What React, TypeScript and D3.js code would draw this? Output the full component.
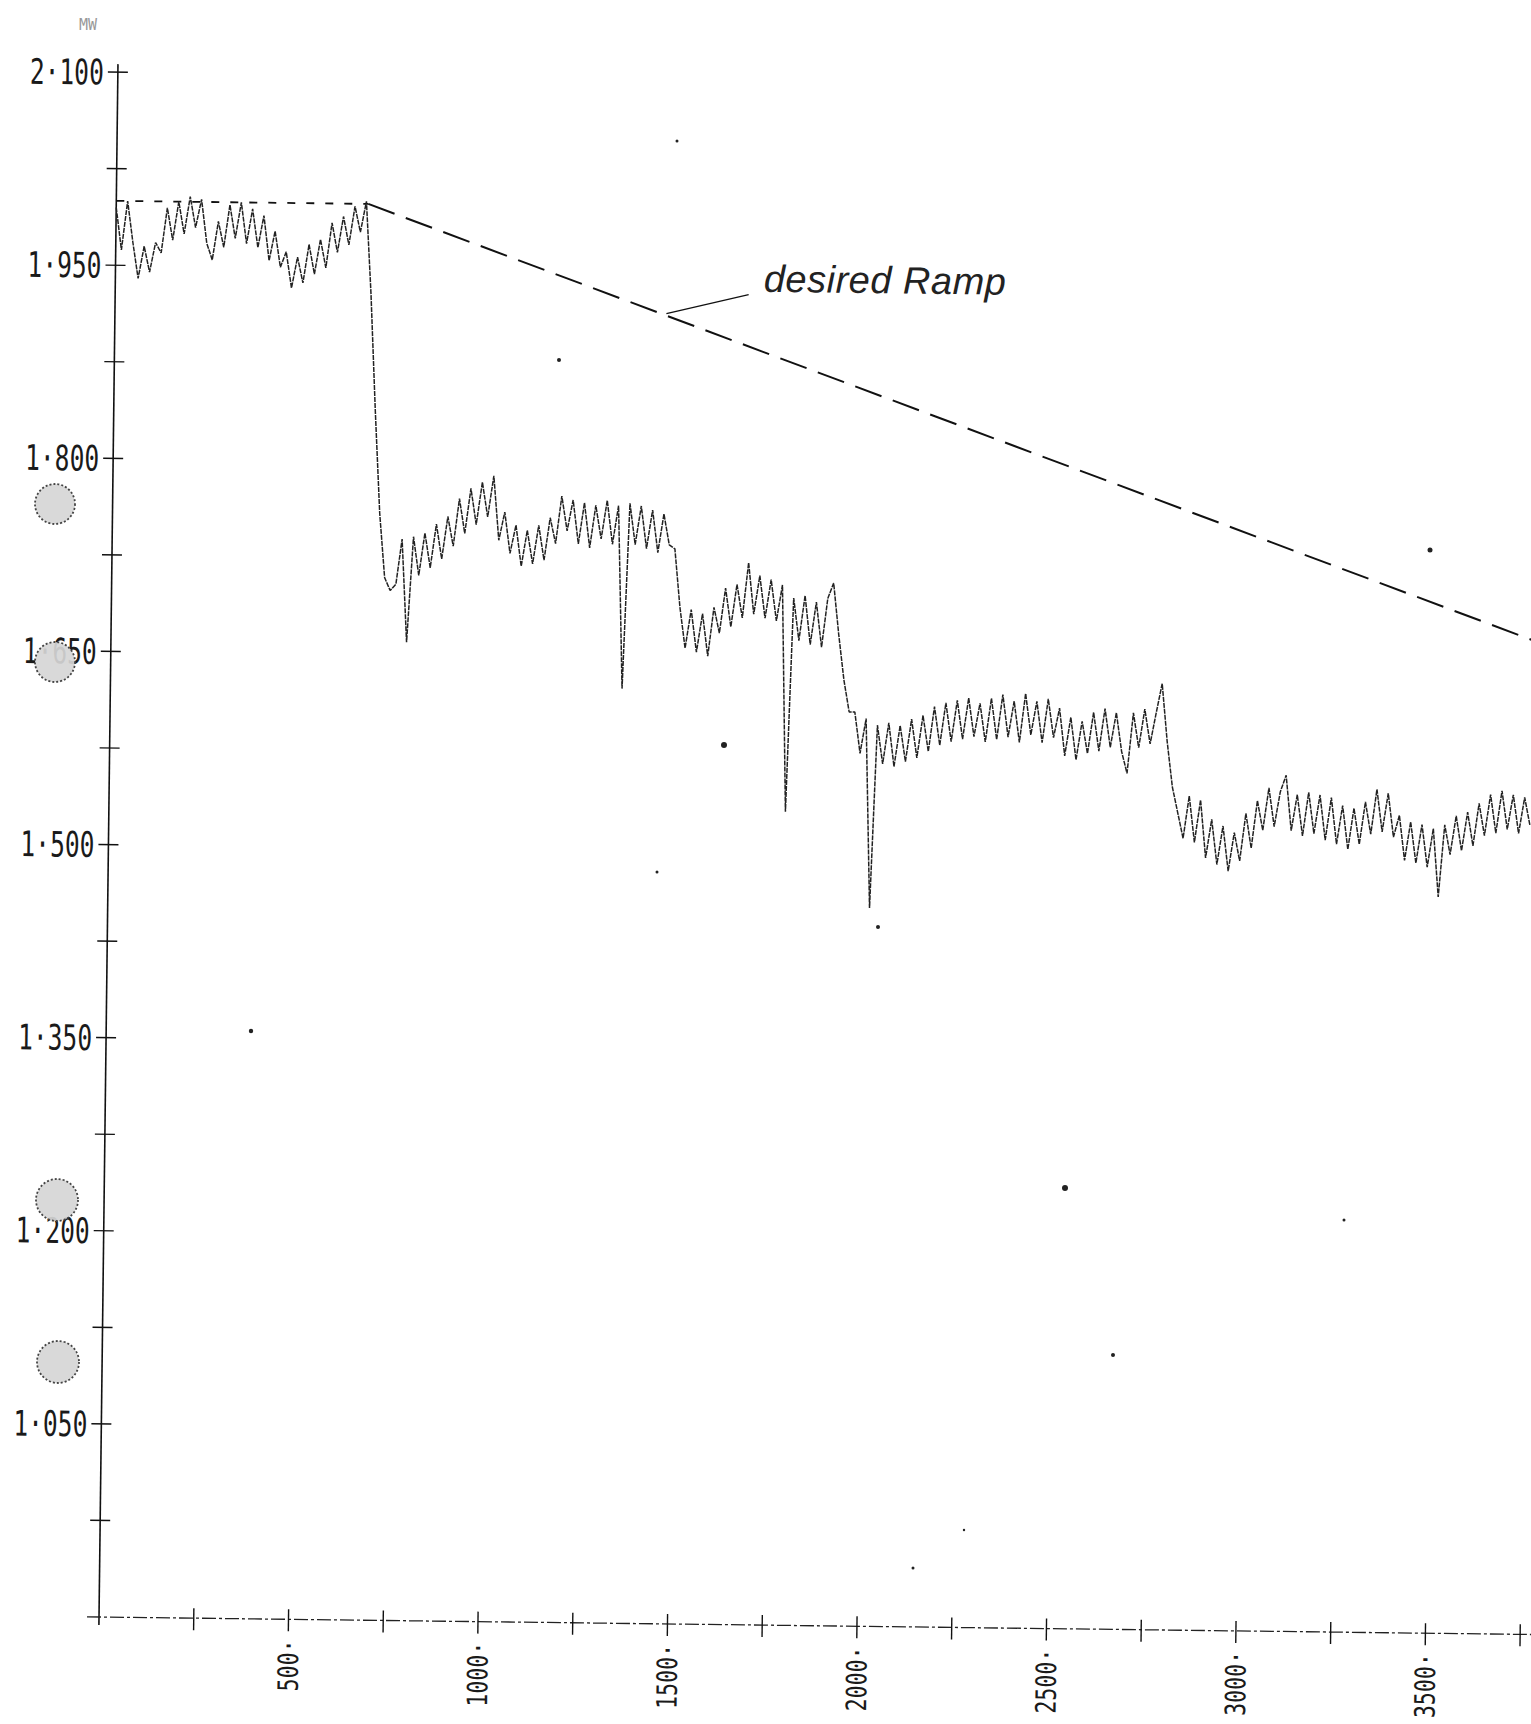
import React from 'react';
import * as d3 from 'd3';

// one sample every 15 time units, starting at t = 0
const SAMPLE_STEP = 15;

// first level, around 1.98 (t 0 - 660)
const stage1 = [
  1.995, 1.962, 2.000, 1.968, 1.940, 1.965, 1.945, 1.968, 1.960, 1.995,
  1.970, 2.000, 1.975, 2.004, 1.980, 2.002, 1.968, 1.955, 1.985, 1.965,
  1.998, 1.972, 2.000, 1.968, 1.995, 1.965, 1.990, 1.955, 1.978, 1.950,
  1.962, 1.934, 1.958, 1.938, 1.968, 1.945, 1.972, 1.950, 1.985, 1.962,
  1.990, 1.968, 1.998, 1.978, 2.002,
];
const drop1 = [1.93, 1.84, 1.76, 1.71, 1.70];
// second level (t 750 - 1470)
const stage2 = [
  1.705, 1.740, 1.660, 1.742, 1.712, 1.745, 1.718, 1.752, 1.725, 1.758,
  1.735, 1.772, 1.745, 1.780, 1.752, 1.785, 1.758, 1.790, 1.740, 1.762,
  1.730, 1.752, 1.720, 1.748, 1.722, 1.752, 1.725, 1.758, 1.738, 1.775,
  1.748, 1.772, 1.738, 1.770, 1.735, 1.768, 1.742, 1.772, 1.738, 1.768,
  1.626, 1.770, 1.738, 1.768, 1.735, 1.765, 1.732, 1.762, 1.738,
];
const drop2 = [1.735, 1.69];
// third level (t 1515 - 1905)
const stage3 = [
  1.658, 1.688, 1.655, 1.685, 1.652, 1.690, 1.670, 1.705, 1.675, 1.708,
  1.682, 1.725, 1.685, 1.715, 1.682, 1.712, 1.680, 1.708, 1.532, 1.698,
  1.665, 1.700, 1.662, 1.695, 1.660, 1.698, 1.710,
];
const drop3 = [1.67, 1.635, 1.61];
// fourth level (t 1965 - 2775)
const stage4 = [
  1.610, 1.578, 1.605, 1.458, 1.600, 1.570, 1.602, 1.568, 1.600, 1.572,
  1.605, 1.575, 1.608, 1.580, 1.615, 1.585, 1.618, 1.588, 1.620, 1.590,
  1.622, 1.592, 1.618, 1.588, 1.622, 1.590, 1.625, 1.592, 1.620, 1.588,
  1.626, 1.594, 1.620, 1.588, 1.622, 1.592, 1.615, 1.578, 1.608, 1.575,
  1.605, 1.580, 1.612, 1.582, 1.615, 1.585, 1.612, 1.582, 1.565, 1.612,
  1.585, 1.615, 1.588, 1.612, 1.635,
];
const drop4 = [1.59, 1.555, 1.535];
// fifth level (t 2835 - 3750)
const stage5 = [
  1.515, 1.548, 1.512, 1.545, 1.500, 1.530, 1.495, 1.525, 1.490, 1.520,
  1.498, 1.535, 1.508, 1.545, 1.522, 1.555, 1.525, 1.552, 1.565, 1.522,
  1.550, 1.518, 1.552, 1.520, 1.550, 1.515, 1.548, 1.512, 1.542, 1.508,
  1.540, 1.512, 1.545, 1.520, 1.555, 1.522, 1.552, 1.518, 1.535, 1.500,
  1.530, 1.498, 1.528, 1.495, 1.525, 1.472, 1.528, 1.505, 1.535, 1.508,
  1.538, 1.512, 1.545, 1.520, 1.552, 1.522, 1.555, 1.525, 1.552, 1.522,
  1.550, 1.528,
];

const power = [
  ...stage1, ...drop1, ...stage2, ...drop2, ...stage3,
  ...drop3, ...stage4, ...drop4, ...stage5,
];

// desired ramp (dashed)
const rampTimes = [0, 665, 3800];
const rampValues = [2.0, 2.0, 1.667];

const yTicks = [1.05, 1.2, 1.35, 1.5, 1.65, 1.8, 1.95, 2.1];
const yTickLabels = ['1·050', '1·200', '1·350', '1·500', '1·650', '1·800', '1·950', '2·100'];
const yMinorTicks = [0.975, 1.125, 1.275, 1.425, 1.575, 1.725, 1.875, 2.025];
const xTicks = [250, 500, 750, 1000, 1250, 1500, 1750, 2000, 2250, 2500, 2750, 3000, 3250, 3500, 3750];
const xLabelTicks = [500, 1000, 1500, 2000, 2500, 3000, 3500];

// scanner leftovers: punch-hole smudges and dust
const smudges = [
  { cx: 55, cy: 504, r: 20 },
  { cx: 55, cy: 662, r: 20 },
  { cx: 57, cy: 1200, r: 21 },
  { cx: 58, cy: 1362, r: 21 },
];
const dust = [
  [724, 745, 3], [1430, 550, 2.5], [1065, 1188, 3], [251, 1031, 2.2],
  [559, 360, 2], [878, 927, 2], [1113, 1355, 2], [677, 141, 1.5],
  [913, 1568, 1.5], [657, 872, 1.5], [1344, 1220, 1.5], [964, 1530, 1.2],
];

const W = 1531;
const H = 1724;
const TILT = 0.7; // the scan is slightly rotated

export default function App() {
  const x = d3.scaleLinear().domain([0, 3800]).range([99, 99 + 3800 * 0.379]);
  const y = d3.scaleLinear().domain([0.9, 2.1]).range([1617, 72]);
  const ox = x(0);
  const oy = y(0.9);

  const series = power.map((v, i) => [i * SAMPLE_STEP, v] as [number, number]);
  const line = d3.line<[number, number]>().x(d => x(d[0])).y(d => y(d[1]));
  const rampPts = rampTimes.map((t, i) => [t, rampValues[i]] as [number, number]);
  const rampAt = d3.scaleLinear().domain(rampTimes).range(rampValues);

  const lt = 1455;
  const lx = x(lt);
  const ly = y(rampAt(lt));

  const mono = '"DejaVu Sans Mono", "Liberation Mono", monospace';

  return (
    <svg width={W} height={H} style={{ position: 'absolute', left: 0, top: 0, background: '#fff' }}>
      <rect width={W} height={H} fill="#fff" />
      <text x={88} y={30} fontFamily={mono} fontSize={15} fill="#999" textAnchor="middle">MW</text>
      <g transform={`rotate(${TILT} ${ox} ${oy})`}>
        {/* axes */}
        <line x1={ox} x2={ox} y1={oy + 8} y2={y(2.1) - 8} stroke="#111" strokeWidth={1.6} />
        <line x1={ox - 12} x2={x(3800)} y1={oy} y2={oy} stroke="#222" strokeWidth={1.3} strokeDasharray="14 3 3 3" />
        {yTicks.concat(yMinorTicks).map(v => (
          <line key={'yt' + v} x1={ox - 10} x2={ox + 10} y1={y(v)} y2={y(v)} stroke="#111" strokeWidth={1.4} />
        ))}
        {yTicks.map((v, i) => (
          <text key={'yl' + v} x={ox - 14} y={y(v)} dy="0.36em" textAnchor="end"
            fontFamily={mono} fontSize={35} textLength={74} lengthAdjust="spacingAndGlyphs" fill="#1a1a1a">
            {yTickLabels[i]}
          </text>
        ))}
        {xTicks.map(t => (
          <line key={'xt' + t} x1={x(t)} x2={x(t)} y1={oy - 10} y2={oy + 12} stroke="#111" strokeWidth={1.4} />
        ))}
        {xLabelTicks.map(t => {
          const label = `${t}·`;
          return (
            <text key={'xl' + t} transform={`translate(${x(t)},${oy + 20}) rotate(-90)`}
              dy="0.36em" textAnchor="end" fontFamily={mono} fontSize={28}
              textLength={label.length * 13} lengthAdjust="spacingAndGlyphs" fill="#1a1a1a">
              {label}
            </text>
          );
        })}

        {/* desired ramp */}
        <path d={line(rampPts.slice(0, 2)) || ''} fill="none" stroke="#111" strokeWidth={1.8} strokeDasharray="8 11" />
        <path d={line(rampPts.slice(1)) || ''} fill="none" stroke="#111" strokeWidth={2} strokeDasharray="28 12" />
        <line x1={lx} y1={ly - 2} x2={lx + 82} y2={ly - 22} stroke="#111" strokeWidth={1.3} />
        <text x={lx + 97} y={ly - 25} fontFamily='"Liberation Sans", Arial, sans-serif' fontStyle="italic"
          fontSize={38} letterSpacing={0.5} fill="#222">
          desired Ramp
        </text>

        {/* measured trace */}
        <path d={line(series) || ''} fill="none" stroke="#222" strokeWidth={1.5}
          strokeDasharray="5 1" strokeLinejoin="bevel" />
      </g>

      {smudges.map((s, i) => (
        <circle key={'s' + i} cx={s.cx} cy={s.cy} r={s.r} fill="#d6d6d6" fillOpacity={0.92}
          stroke="#444" strokeWidth={1.8} strokeDasharray="2 2" />
      ))}
      {dust.map((d, i) => (
        <circle key={'d' + i} cx={d[0]} cy={d[1]} r={d[2]} fill="#222" />
      ))}
    </svg>
  );
}
